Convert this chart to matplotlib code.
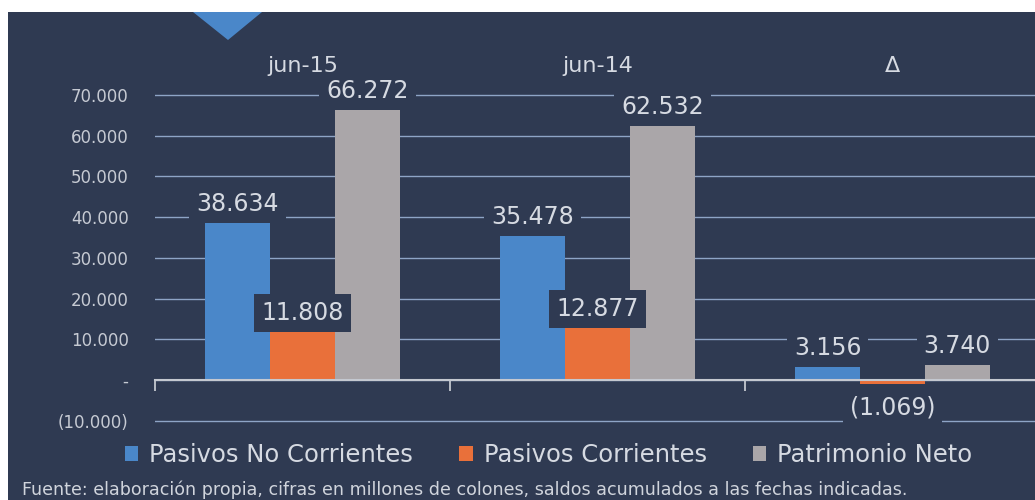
import matplotlib.pyplot as plt
from matplotlib.patches import Rectangle, Polygon
from matplotlib.ticker import FixedLocator

# Datos (millones de colones)
categorias = ['jun-15', 'jun-14', 'Δ']
series = ['Pasivos No Corrientes', 'Pasivos Corrientes', 'Patrimonio Neto']
no_corrientes = [38634, 35478, 3156]
corrientes = [11808, 12877, -1069]
patrimonio = [66272, 62532, 3740]
yticks = [-10000, 0, 10000, 20000, 30000, 40000, 50000, 60000, 70000]
yticklabels = ['(10.000)', '-', '10.000', '20.000', '30.000', '40.000',
               '50.000', '60.000', '70.000']

fondo = '#2f3a52'
texto = '#d6dae2'
colores = ['#4a87c9', '#e9703a', '#aaa6a9']

plt.rcParams['font.family'] = ['DejaVu Sans']

fig = plt.figure(figsize=(10.35, 5), dpi=100, facecolor='white')
# panel oscuro
fig.patches.append(Rectangle((8 / 1035, 0), 1, 488 / 500, transform=fig.transFigure,
                             facecolor=fondo, edgecolor='none', zorder=-10))
# triangulo decorativo
fig.patches.append(Polygon([(193 / 1035, 488 / 500), (262 / 1035, 488 / 500),
                            (228 / 1035, 460 / 500)], closed=True,
                           transform=fig.transFigure, facecolor='#4a87c9',
                           edgecolor='none', zorder=-5))

# escala: ~40.72 px por 10.000, cero en y=380 px
ax = fig.add_axes([155 / 1035, 0.1545, 885 / 1035, 0.6760])
ax.set_facecolor('none')

x = range(len(categorias))
ancho = 0.22
valores = [no_corrientes, corrientes, patrimonio]
for i, (serie, vals) in enumerate(zip(series, valores)):
    pos = [xi + (i - 1) * ancho for xi in x]
    barras = ax.bar(pos, vals, width=ancho, color=colores[i], label=serie, zorder=2)
    for b, v in zip(barras, vals):
        etiqueta = f'{abs(v):,}'.replace(',', '.')
        if v < 0:
            etiqueta = '(' + etiqueta + ')'
            off = -17
        else:
            off = 13.5
        ax.annotate(etiqueta, (b.get_x() + b.get_width() / 2, v),
                    xytext=(0, off), textcoords='offset points',
                    ha='center', va='center', fontsize=17, color=texto, zorder=5,
                    bbox=dict(boxstyle='square,pad=0.3', facecolor=fondo,
                              edgecolor='none'))

ax.set_xlim(-0.5, 2.5)
ax.set_ylim(-10500, 72500)
ax.set_yticks(yticks)
ax.set_yticklabels(yticklabels)
ax.yaxis.grid(True, color='#8ea4c6', linewidth=1, zorder=0)
ax.set_axisbelow(True)
ax.xaxis.set_zorder(6)
ax.tick_params(axis='y', length=0, pad=19, labelsize=12, labelcolor='#c6cad3')

ax.set_xticks(list(x))
ax.set_xticklabels(categorias)
ax.xaxis.set_minor_locator(FixedLocator([-0.5, 0.5, 1.5]))
ax.tick_params(axis='x', which='major', bottom=False, top=False,
               labelbottom=False, labeltop=True, labelsize=16,
               labelcolor=texto, pad=3)
ax.tick_params(axis='x', which='minor', bottom=True, length=8, width=1.3,
               color='#c4c8d0', direction='out')

for s in ['top', 'right', 'left']:
    ax.spines[s].set_visible(False)
ax.spines['bottom'].set_position(('data', 0))
ax.spines['bottom'].set_color('#c4c8d0')
ax.spines['bottom'].set_linewidth(1.5)
ax.spines['bottom'].set_zorder(3)

leg = fig.legend(loc='center', bbox_to_anchor=(0.530, 0.09), ncol=3, frameon=False,
                 fontsize=17.5, handlelength=0.55, handleheight=0.55,
                 handletextpad=0.45, columnspacing=1.9)
for t in leg.get_texts():
    t.set_color(texto)

fig.text(0.021, 0.02, 'Fuente: elaboración propia, cifras en millones de colones, '
         'saldos acumulados a las fechas indicadas.', fontsize=12.6,
         color='#d0d4dc', ha='left', va='center')

fig.savefig('out.png', dpi=100, facecolor=fig.get_facecolor())
